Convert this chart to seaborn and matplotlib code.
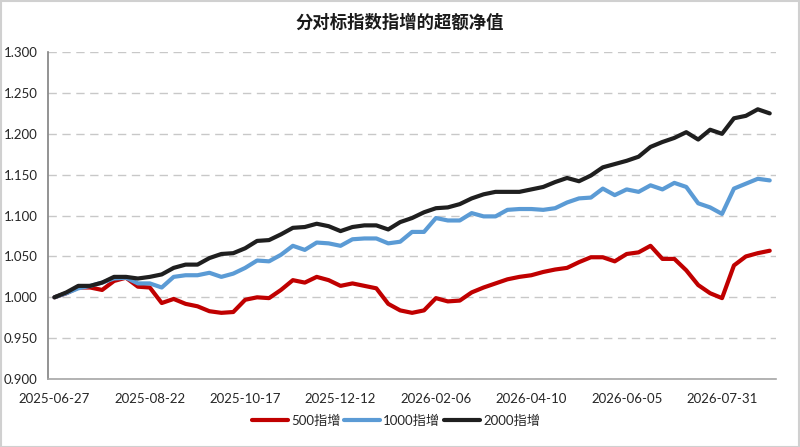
import pandas as pd
import matplotlib.pyplot as plt
import seaborn as sns
from matplotlib.patches import Rectangle

# weekly dates (Fridays), Spring Festival week skipped
dates = pd.date_range('2025-06-27', '2026-08-28', freq='W-FRI')
dates = [d for d in dates if d != pd.Timestamp('2026-02-20')]
date_labels = [d.strftime('%Y-%m-%d') for d in dates]

nav_500 = [1.000, 1.005, 1.012, 1.012, 1.009, 1.020, 1.024, 1.013, 1.012, 0.993,
           0.998, 0.992, 0.989, 0.983, 0.981, 0.982, 0.997, 1.000, 0.999, 1.009,
           1.021, 1.018, 1.025, 1.021, 1.014, 1.017, 1.014, 1.011, 0.992, 0.984,
           0.981, 0.984, 0.999, 0.995, 0.996, 1.006, 1.012, 1.017, 1.022, 1.025,
           1.027, 1.031, 1.034, 1.036, 1.043, 1.049, 1.049, 1.044, 1.053, 1.055,
           1.063, 1.047, 1.047, 1.033, 1.015, 1.005, 0.999, 1.039, 1.050, 1.054,
           1.057]
nav_1000 = [1.000, 1.005, 1.011, 1.014, 1.018, 1.023, 1.024, 1.017, 1.017, 1.012,
            1.025, 1.027, 1.027, 1.030, 1.025, 1.029, 1.036, 1.045, 1.044, 1.052,
            1.063, 1.058, 1.067, 1.066, 1.063, 1.071, 1.072, 1.072, 1.066, 1.068,
            1.080, 1.080, 1.097, 1.094, 1.094, 1.103, 1.099, 1.099, 1.107, 1.108,
            1.108, 1.107, 1.109, 1.116, 1.121, 1.122, 1.133, 1.125, 1.132, 1.129,
            1.137, 1.132, 1.140, 1.135, 1.115, 1.110, 1.102, 1.133, 1.139, 1.145,
            1.143]
nav_2000 = [1.000, 1.006, 1.014, 1.014, 1.018, 1.025, 1.025, 1.023, 1.025, 1.028,
            1.036, 1.040, 1.040, 1.048, 1.053, 1.054, 1.060, 1.069, 1.070, 1.077,
            1.085, 1.086, 1.090, 1.087, 1.081, 1.086, 1.088, 1.088, 1.083, 1.092,
            1.097, 1.104, 1.109, 1.110, 1.114, 1.121, 1.126, 1.129, 1.129, 1.129,
            1.132, 1.135, 1.141, 1.146, 1.142, 1.149, 1.159, 1.163, 1.167, 1.172,
            1.184, 1.190, 1.195, 1.202, 1.193, 1.205, 1.200, 1.219, 1.222, 1.230,
            1.225]

series_names = ['500指增', '1000指增', '2000指增']
colors = ['#C00000', '#5B9BD5', '#1F1F1F']
y_ticks = [0.900, 0.950, 1.000, 1.050, 1.100, 1.150, 1.200, 1.250, 1.300]
tick_every = 8

df = pd.DataFrame({'idx': range(len(date_labels)),
                   '500指增': nav_500, '1000指增': nav_1000, '2000指增': nav_2000})
long_df = df.melt(id_vars='idx', var_name='series', value_name='nav')

sns.set_style('white')
plt.rcParams['font.family'] = ['Lato', 'Noto Sans CJK SC', 'DejaVu Sans']

fig = plt.figure(figsize=(8, 4.47), dpi=100)
ax = fig.add_axes([0.0606, 0.152, 0.909, 0.7315])

sns.lineplot(data=long_df, x='idx', y='nav', hue='series', hue_order=series_names,
             palette=colors, linewidth=3, ax=ax, solid_joinstyle='round',
             solid_capstyle='round')

ax.set_xlim(-0.5, len(date_labels) - 0.5)
ax.set_ylim(0.9, 1.3)
ax.set_yticks(y_ticks)
ax.set_yticklabels([f'{v:.3f}' for v in y_ticks])
tick_pos = list(range(0, len(date_labels), tick_every))
ax.set_xticks(tick_pos)
ax.set_xticklabels([date_labels[i] for i in tick_pos])
ax.tick_params(axis='both', length=0, labelsize=9.5, colors='#262626')
ax.tick_params(axis='x', pad=10)
ax.tick_params(axis='y', pad=8)
ax.set_xlabel('')
ax.set_ylabel('')

ax.grid(axis='y', color='#c8c8c8', linestyle=(0, (6, 4)), linewidth=1)
ax.grid(axis='x', visible=False)
for s in ['top', 'right']:
    ax.spines[s].set_visible(False)
ax.spines['left'].set_color('#808080')
ax.spines['bottom'].set_color('#a6a6a6')
ax.spines['left'].set_linewidth(1.2)
ax.spines['bottom'].set_linewidth(1.2)

ax.legend(loc='center', bbox_to_anchor=(0.478, -0.128), ncol=3, frameon=False,
          fontsize=9.5, handlelength=2.7, handletextpad=0.25, columnspacing=0.3)

fig.text(0.5, 0.951, '分对标指数指增的超额净值', ha='center', va='center',
         fontsize=12.5, fontweight='bold', color='#1a1a1a')

fig.add_artist(Rectangle((0.001, 0.001), 0.998, 0.997, transform=fig.transFigure,
                         fill=False, edgecolor='#d0d0d0', linewidth=1.5))

plt.savefig('out.png', dpi=100)
